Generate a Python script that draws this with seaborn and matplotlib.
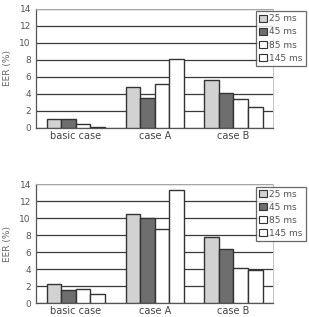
import matplotlib
matplotlib.use("Agg")
import matplotlib.pyplot as plt
import pandas as pd
import seaborn as sns

cases = ["basic case", "case A", "case B"]
windows = ["25 ms", "45 ms", "85 ms", "145 ms"]
# EER (%) per case, order: 25, 45, 85, 145 ms
top_basic = [1.0, 1.0, 0.4, 0.05]
top_a = [4.8, 3.5, 5.1, 8.1]
top_b = [5.6, 4.1, 3.4, 2.4]
bot_basic = [2.2, 1.5, 1.7, 1.1]
bot_a = [10.5, 10.0, 8.7, 13.3]
bot_b = [7.8, 6.4, 4.1, 3.9]

colors = ["#d2d2d2", "#6e6e6e", "#ffffff", "#ffffff"]


def to_long(rows):
    recs = []
    for case, vals in zip(cases, rows):
        for w, v in zip(windows, vals):
            recs.append({"case": case, "window": w, "eer": v})
    return pd.DataFrame(recs)


sns.set_style("white")
plt.rcParams["font.family"] = ["DejaVu Sans"]
fig = plt.figure(figsize=(3.09, 3.17), dpi=100)
axes = [fig.add_axes([0.118, 0.597, 0.765, 0.375]),
        fig.add_axes([0.118, 0.044, 0.765, 0.375])]

for ax, rows in zip(axes, [[top_basic, top_a, top_b], [bot_basic, bot_a, bot_b]]):
    df = to_long(rows)
    sns.barplot(data=df, x="case", y="eer", hue="window", palette=colors,
                width=0.74, edgecolor="#333333", linewidth=1.0,
                ax=ax, legend=False, zorder=3)
    ax.set_ylim(0, 14)
    ax.set_yticks(range(0, 15, 2))
    ax.yaxis.grid(True, color="#3a3a3a", lw=0.9, zorder=0)
    ax.set_axisbelow(True)
    ax.tick_params(axis="y", labelsize=6.5, colors="#555555", pad=2, length=2)
    ax.tick_params(axis="x", labelsize=7, colors="#444444", pad=2, length=0)
    ax.set_xlabel("")
    ax.set_ylabel("EER (%)", fontsize=6.5, color="#666666", labelpad=5)
    for s in ["left", "bottom"]:
        ax.spines[s].set_color("#555555")
        ax.spines[s].set_linewidth(0.9)
    for s in ["top", "right"]:
        ax.spines[s].set_color("#bbbbbb")
        ax.spines[s].set_linewidth(0.6)
    handles = [plt.Rectangle((0, 0), 1, 1, facecolor=c, edgecolor="#333333", lw=0.8)
               for c in colors]
    leg = ax.legend(handles, windows, loc="upper left", bbox_to_anchor=(0.93, 0.98),
                    fontsize=6.5, frameon=True, fancybox=False, handlelength=0.8,
                    handleheight=0.8, handletextpad=0.3, borderpad=0.35,
                    labelspacing=0.45, borderaxespad=0)
    leg.get_frame().set_edgecolor("#444444")
    leg.get_frame().set_linewidth(0.9)
    for t in leg.get_texts():
        t.set_color("#555555")

fig.savefig("out.png", dpi=100)
